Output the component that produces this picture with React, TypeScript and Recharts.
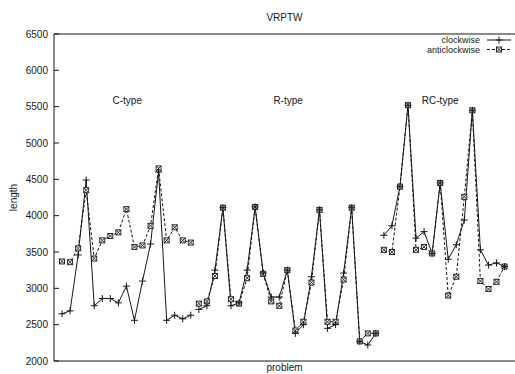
import {
  LineChart,
  Line,
  XAxis,
  YAxis,
  ReferenceLine,
  ReferenceDot,
  Legend,
} from "recharts"

// C1 + C2 instances
const cClockwise = [2650, 2690, 3460, 4490, 2760, 2860, 2860, 2800, 3030, 2560, 3100, 3610, 4600, 2560, 2630, 2580, 2630]
const cAnticlockwise = [3370, 3360, 3550, 4350, 3410, 3660, 3720, 3770, 4090, 3570, 3590, 3860, 4650, 3660, 3840, 3660, 3630]

// R1 + R2 instances
const rClockwise = [2710, 2760, 3250, 4110, 2760, 2800, 3250, 4120, 3210, 2880, 2880, 3250, 2380, 2500, 3160, 4080, 2450, 2500, 3210, 4110, 2270, 2220, 2380]
const rAnticlockwise = [2790, 2820, 3170, 4110, 2850, 2790, 3140, 4120, 3200, 2820, 2760, 3250, 2420, 2540, 3080, 4080, 2540, 2540, 3120, 4110, 2270, 2380, 2380]

// RC1 + RC2 instances
const rcClockwise = [3730, 3860, 4400, 5520, 3690, 3780, 3480, 4450, 3400, 3600, 3940, 5450, 3530, 3320, 3350, 3300]
const rcAnticlockwise = [3530, 3500, 4400, 5520, 3530, 3570, 3480, 4450, 2900, 3160, 4260, 5450, 3100, 2990, 3090, 3300]

const yTicks = [2000, 2500, 3000, 3500, 4000, 4500, 5000, 5500, 6000, 6500]
const typeLabels = ["C-type", "R-type", "RC-type"]
const typeLabelX = [9.1, 29.1, 48.0]
const legendOrder = ["cw", "acw"]

const groups = [
  { cw: cClockwise, acw: cAnticlockwise },
  { cw: rClockwise, acw: rAnticlockwise },
  { cw: rcClockwise, acw: rcAnticlockwise },
]

// one row per problem, with a null row between types so the lines break
const data: { i: number; cw: number | null; acw: number | null }[] = []
let n = 0
groups.forEach((g, gi) => {
  if (gi > 0) data.push({ i: n + 0.5, cw: null, acw: null })
  g.cw.forEach((v, k) => {
    n += 1
    data.push({ i: n, cw: v, acw: g.acw[k] })
  })
})

const ink = "#161616"
const font = "'Liberation Sans', Arial, Helvetica, sans-serif"

const PlusDot = (props: any) => {
  const { cx, cy } = props
  if (cx == null || cy == null) return <g />
  return (
    <path
      d={`M${cx - 3.5},${cy}H${cx + 3.5}M${cx},${cy - 3.5}V${cy + 3.5}`}
      stroke={ink}
      strokeWidth={1}
      fill="none"
    />
  )
}

const BoxDot = (props: any) => {
  const { cx, cy } = props
  if (cx == null || cy == null) return <g />
  return (
    <g stroke={ink} strokeWidth={0.9} fill="none">
      <rect x={cx - 2.5} y={cy - 2.5} width={5} height={5} fill="#fff" />
      <path d={`M${cx - 2.5},${cy - 2.5}L${cx + 2.5},${cy + 2.5}M${cx + 2.5},${cy - 2.5}L${cx - 2.5},${cy + 2.5}`} />
    </g>
  )
}

const YTick = (props: any) => {
  const { x, y, payload } = props
  return (
    <g>
      <line x1={x} y1={y} x2={x + 5} y2={y} stroke={ink} />
      <text x={x - 6} y={y} textAnchor="end" dominantBaseline="central" fontSize={10} fontFamily={font} fill={ink}>
        {payload.value}
      </text>
    </g>
  )
}

const renderLegend = (props: any) => {
  const items = [...(props.payload || [])].sort(
    (a: any, b: any) => legendOrder.indexOf(a.dataKey) - legendOrder.indexOf(b.dataKey)
  )
  return (
    <svg width={515} height={26}>
      {items.map((item: any, idx: number) => {
        const y = 7 + idx * 9.5
        const dashed = item.dataKey === "acw"
        return (
          <g key={item.value}>
            <text x={480} y={y} textAnchor="end" dominantBaseline="central" fontSize={9} fontFamily={font} fill={ink}>
              {item.value}
            </text>
            <line x1={487} y1={y} x2={511} y2={y} stroke={ink} strokeDasharray={dashed ? "3 2" : undefined} />
            {dashed ? <BoxDot cx={499} cy={y} /> : <PlusDot cx={499} cy={y} />}
          </g>
        )
      })}
    </svg>
  )
}

export default function App() {
  return (
    <div style={{ position: "absolute", left: 0, top: 0, background: "#fff" }}>
      <LineChart width={515} height={374} data={data} margin={{ top: 34, right: 0, bottom: 0, left: 0 }}>
        <XAxis
          type="number"
          dataKey="i"
          domain={[0, 57.3]}
          allowDataOverflow
          tick={false}
          tickLine={false}
          axisLine={{ stroke: ink }}
          height={13}
          label={{ value: "problem", position: "insideBottom", offset: 3, fontSize: 10, fontFamily: font, fill: ink }}
        />
        <YAxis
          domain={[2000, 6500]}
          ticks={yTicks}
          interval={0}
          width={54}
          tickSize={0}
          tickMargin={0}
          tickLine={false}
          axisLine={{ stroke: ink }}
          tick={<YTick />}
          label={{ value: "length", angle: -90, position: "center", dx: -14, fontSize: 10, fontFamily: font, fill: ink }}
        />
        <ReferenceLine
          y={6500}
          stroke={ink}
          label={{ value: "VRPTW", position: "top", offset: 13, fontSize: 10, fontFamily: font, fill: ink }}
        />
        {typeLabels.map((t, k) => (
          <ReferenceDot
            key={t}
            x={typeLabelX[k]}
            y={5580}
            r={0}
            stroke="none"
            label={{ value: t, position: "center", fontSize: 10, fontFamily: font, fill: ink }}
          />
        ))}
        <Legend
          layout="vertical"
          align="center"
          verticalAlign="middle"
          content={renderLegend}
          wrapperStyle={{ position: "absolute", top: 33, left: 0, width: 515, height: 26 }}
        />
        <Line
          dataKey="acw"
          name="anticlockwise"
          stroke={ink}
          strokeWidth={1}
          strokeDasharray="3 2"
          dot={<BoxDot />}
          activeDot={false}
          isAnimationActive={false}
        />
        <Line
          dataKey="cw"
          name="clockwise"
          stroke={ink}
          strokeWidth={1}
          dot={<PlusDot />}
          activeDot={false}
          isAnimationActive={false}
        />
      </LineChart>
    </div>
  )
}
